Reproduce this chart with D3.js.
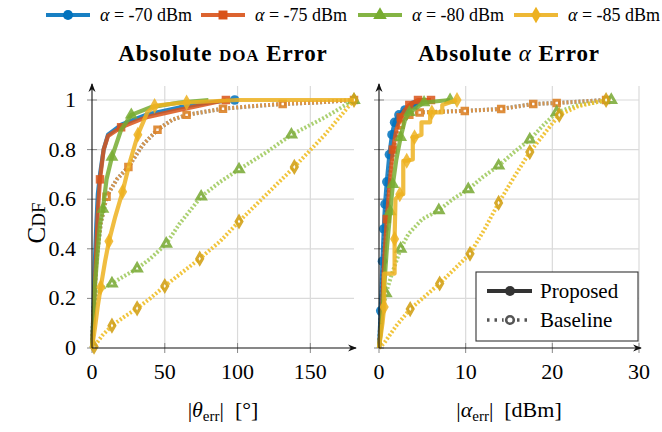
<!DOCTYPE html>
<html>
<head>
<meta charset="utf-8">
<script src="https://cdn.jsdelivr.net/npm/d3@7"></script>
<style>
  html, body { margin: 0; padding: 0; background: #fff; }
</style>
</head>
<body>
<svg id="chart" width="662" height="432" font-family="'Liberation Serif', 'Times New Roman', 'DejaVu Serif', serif"></svg>
<script>
// ---- Series labels (transmit power levels) ----
const powers = ["-70", "-75", "-80", "-85"];

// ---- Tick values ----
const yTicks = [0, 0.2, 0.4, 0.6, 0.8, 1];
const yTickLabels = ["0", "0.2", "0.4", "0.6", "0.8", "1"];
const thetaTicks = [0, 50, 100, 150];
const alphaTicks = [0, 10, 20, 30];

// ---- CDF of absolute DOA error [deg], proposed method ----
const doaProp70 = [[0,0],[1,0.15],[2,0.35],[3,0.5],[4,0.62],[5.5,0.7],[8,0.8],[11,0.86],[20,0.9],[37,0.94],[60,0.97],[80,0.99],[98,1]];
const doaProp75 = [[0,0],[1,0.12],[2.5,0.33],[4,0.55],[5.5,0.68],[8,0.8],[11,0.855],[20,0.89],[37,0.93],[60,0.96],[80,0.985],[92,1]];
const doaProp80 = [[0,0],[1,0.1],[2,0.25],[4,0.4],[5.5,0.5],[7.5,0.56],[10,0.68],[13.7,0.77],[20,0.88],[27,0.94],[40,0.97],[60,0.99],[80,1]];
const doaProp85 = [[0,0],[2,0.08],[4,0.17],[6,0.245],[9,0.35],[11.6,0.43],[16,0.53],[21,0.63],[26,0.75],[31.5,0.86],[38,0.95],[43,0.976],[55,0.985],[65,0.99],[100,1],[180,1]];

// ---- CDF of absolute DOA error [deg], baseline ----
const doaBase70 = [[0,0],[1,0.15],[3,0.35],[6,0.5],[10,0.61],[17,0.68],[25,0.73],[35,0.82],[45,0.88],[55,0.92],[65,0.94],[90,0.965],[110,0.975],[131,0.984],[155,0.99],[180,1]];
const doaBase75 = [[0,0],[1,0.15],[3,0.35],[6,0.5],[10,0.61],[17,0.68],[25,0.73],[35,0.82],[45,0.88],[55,0.92],[65,0.94],[90,0.965],[110,0.975],[131,0.984],[155,0.99],[180,1]];
const doaBase80 = [[0,0],[1,0.15],[3,0.22],[7,0.24],[13.7,0.26],[22,0.29],[31,0.32],[40,0.36],[51,0.42],[60,0.5],[75,0.61],[88,0.67],[101,0.72],[120,0.79],[137,0.86],[160,0.93],[180,1]];
const doaBase85 = [[0,0],[1.4,0.005],[7,0.05],[13.7,0.09],[22,0.125],[31,0.16],[40,0.2],[50,0.25],[62,0.305],[74,0.36],[88,0.43],[101,0.51],[120,0.62],[139,0.73],[160,0.86],[180,1]];

// ---- CDF of absolute power error [dBm], proposed method ----
const pwrProp70 = [[0,0],[0.2,0.15],[0.4,0.35],[0.55,0.48],[0.7,0.58],[0.9,0.67],[1.2,0.78],[1.5,0.86],[1.8,0.91],[2.3,0.94],[3,0.96],[4,0.98],[5,1]];
const pwrProp75 = [[0,0],[0.3,0.12],[0.6,0.35],[0.9,0.52],[1.2,0.65],[1.6,0.8],[2,0.88],[2.5,0.93],[3,0.96],[3.5,0.98],[4.5,1],[6,1]];
const pwrProp80 = [[0,0],[0.3,0.1],[0.6,0.25],[0.9,0.4],[1.3,0.55],[1.6,0.66],[2,0.76],[2.5,0.85],[3,0.92],[3.5,0.95],[5.2,0.99],[8.2,1]];
const pwrProp85 = [[0,0],[0.4,0.1],[0.6,0.165],[0.6,0.3],[1.8,0.3],[1.8,0.44],[1.9,0.6],[2.4,0.62],[2.8,0.62],[2.8,0.755],[3.2,0.755],[3.9,0.76],[3.9,0.85],[4.1,0.85],[4.9,0.86],[4.9,0.91],[5.9,0.91],[5.9,0.95],[6.1,0.95],[7.3,0.95],[7.3,0.98],[9.0,1]];

// ---- CDF of absolute power error [dBm], baseline ----
const pwrBase70 = [[0,0],[0.3,0.2],[0.7,0.5],[1.2,0.7],[1.8,0.82],[2.5,0.9],[3.5,0.94],[4.7,0.95],[9.9,0.956],[14.1,0.964],[17.8,0.984],[20.5,0.988],[26.2,1]];
const pwrBase75 = [[0,0],[0.3,0.2],[0.7,0.5],[1.2,0.7],[1.8,0.82],[2.5,0.9],[3.5,0.94],[4.7,0.95],[9.9,0.956],[14.1,0.964],[17.8,0.984],[20.5,0.988],[26.2,1]];
const pwrBase80 = [[0,0],[0.3,0.12],[0.8,0.22],[1.5,0.3],[2.5,0.4],[3.4,0.46],[5,0.52],[6.9,0.555],[8.5,0.6],[10.3,0.64],[12,0.69],[13.8,0.735],[15.6,0.79],[17.4,0.84],[19,0.9],[20.5,0.95],[23,0.98],[26.8,1]];
const pwrBase85 = [[0,0],[0.6,0.02],[2,0.09],[3.6,0.157],[7,0.26],[10.5,0.38],[12.2,0.48],[13.8,0.585],[15.6,0.69],[17.4,0.79],[19.2,0.87],[20.8,0.94],[23,0.975],[26.2,1]];

// ---- Styling ----
const colors = ["#0072bd", "#d95319", "#77ac30", "#edb120"];
const baseColors = ["#4a9bd6", "#e8923a", "#a2cb62", "#efbf28"];
const baseMarkColors = ["#2f7fb8", "#dc8228", "#7fae3e", "#d3a21a"];
const shapes = [d3.symbolCircle, d3.symbolSquare, d3.symbolTriangle, d3.symbolDiamond];

const svg = d3.select("#chart");
const defs = svg.append("defs");
defs.append("marker").attr("id", "arrow").attr("viewBox", "0 0 10 10")
  .attr("refX", 9).attr("refY", 5).attr("markerWidth", 8).attr("markerHeight", 8)
  .attr("orient", "auto")
  .append("path").attr("d", "M0,1 L10,5 L0,9 L3,5 Z").attr("fill", "#111");

const yScale = d3.scaleLinear().domain([0, 1]).range([348, 100]);

function panel(opts) {
  const { xScale, xTicks, props, bases, propMarks, baseMarks, title, xLabel, showYLabels } = opts;
  const g = svg.append("g");
  const x0 = xScale.range()[0], x1 = xScale.range()[1];
  const yTop = 86;

  // grid
  g.selectAll(".hg").data(yTicks.filter(d => d > 0)).join("line")
    .attr("x1", x0).attr("x2", x1).attr("y1", d => yScale(d)).attr("y2", d => yScale(d))
    .attr("stroke", "#dadada").attr("stroke-width", 1.2);
  g.selectAll(".vg").data(xTicks.filter(d => d > 0)).join("line")
    .attr("x1", d => xScale(d)).attr("x2", d => xScale(d)).attr("y1", 348).attr("y2", yTop)
    .attr("stroke", "#dadada").attr("stroke-width", 1.2);
  // tick marks
  g.selectAll(".yt").data(yTicks).join("line")
    .attr("x1", x0 - 5).attr("x2", x0 + 5).attr("y1", d => yScale(d)).attr("y2", d => yScale(d))
    .attr("stroke", "#888").attr("stroke-width", 1);
  g.selectAll(".xt").data(xTicks).join("line")
    .attr("x1", d => xScale(d)).attr("x2", d => xScale(d)).attr("y1", 343).attr("y2", 353)
    .attr("stroke", "#888").attr("stroke-width", 1);

  const line = d3.line().x(d => xScale(d[0])).y(d => yScale(d[1]));
  const plot = g.append("g");

  // baselines (densely dotted, small hollow markers)
  bases.forEach((data, i) => {
    plot.append("path").datum(data).attr("d", line)
      .attr("fill", "none").attr("stroke", baseColors[i]).attr("stroke-width", 4)
      .attr("stroke-dasharray", "2,2").attr("opacity", 0.9);
    plot.selectAll(null).data(baseMarks[i].map(k => data[k])).join("path")
      .attr("transform", d => `translate(${xScale(d[0])},${yScale(d[1])})`)
      .attr("d", d3.symbol(shapes[i], 30))
      .attr("fill", "#fff").attr("stroke", baseMarkColors[i]).attr("stroke-width", 3)
      .attr("opacity", 0.9);
  });
  // proposed (solid, filled markers)
  props.forEach((data, i) => {
    plot.append("path").datum(data).attr("d", line)
      .attr("fill", "none").attr("stroke", colors[i]).attr("stroke-width", 4.2)
      .attr("stroke-linejoin", "round").attr("opacity", 0.85);
    plot.selectAll(null).data(propMarks[i].map(k => data[k])).join("path")
      .attr("transform", d => `translate(${xScale(d[0])},${yScale(d[1])})`)
      .attr("d", d3.symbol(shapes[i], 72))
      .attr("fill", colors[i]).attr("opacity", 0.85);
  });

  // axes
  g.append("line").attr("x1", x0).attr("x2", x0).attr("y1", 348).attr("y2", yTop - 2)
    .attr("stroke", "#111").attr("stroke-width", 1.1).attr("marker-end", "url(#arrow)");
  g.append("line").attr("x1", x0).attr("x2", x1 + 2).attr("y1", 348).attr("y2", 348)
    .attr("stroke", "#111").attr("stroke-width", 1.1).attr("marker-end", "url(#arrow)");

  // tick labels
  g.selectAll(".xl").data(xTicks).join("text")
    .attr("x", d => xScale(d)).attr("y", 379).attr("text-anchor", "middle")
    .attr("font-size", 22).text(d => d);
  if (showYLabels) {
    g.selectAll(".yl").data(yTicks).join("text")
      .attr("x", x0 - 16).attr("y", d => yScale(d) + 7).attr("text-anchor", "end")
      .attr("font-size", 22).text((d, k) => yTickLabels[k]);
  }

  // title
  const cx = (x0 + x1) / 2;
  const t = g.append("text").attr("x", cx).attr("y", 61).attr("text-anchor", "middle")
    .attr("font-size", 23).attr("font-weight", "bold").attr("letter-spacing", 0.9);
  title(t);

  // axis label
  const xl = g.append("text").attr("x", cx).attr("y", 417).attr("text-anchor", "middle").attr("font-size", 22);
  xLabel(xl);
}

panel({
  xScale: d3.scaleLinear().domain([0, 180]).range([92, 354]),
  xTicks: thetaTicks,
  props: [doaProp70, doaProp75, doaProp80, doaProp85],
  bases: [doaBase70, doaBase75, doaBase80, doaBase85],
  propMarks: [[12], [4, 7, 11], [5, 7, 9], [3, 5, 7, 9, 11, 13]],
  baseMarks: [[], [4, 6, 8, 10, 11, 13, 15], [4, 6, 8, 10, 12, 14, 16], [1, 3, 5, 7, 9, 11, 13, 15]],
  showYLabels: true,
  title: t => {
    t.append("tspan").text("Absolute ");
    t.append("tspan").attr("font-size", 17).text("DOA");
    t.append("tspan").text(" Error");
  },
  xLabel: t => {
    t.append("tspan").text("|");
    t.append("tspan").attr("font-style", "italic").text("θ");
    t.append("tspan").attr("font-size", 15).attr("dy", 4).text("err");
    t.append("tspan").attr("dy", -4).text("|\u2002[°]");
  }
});

panel({
  xScale: d3.scaleLinear().domain([0, 30]).range([379, 639]),
  xTicks: alphaTicks,
  props: [pwrProp70, pwrProp75, pwrProp80, pwrProp85],
  bases: [pwrBase70, pwrBase75, pwrBase80, pwrBase85],
  propMarks: [[1, 2, 3, 4, 5, 6, 7, 8, 9, 10, 11], [3, 5, 7, 9, 10, 11], [4, 5, 7, 9, 10, 11], [2, 5, 7, 10, 13, 18, 21]],
  baseMarks: [[], [5, 6, 7, 8, 9, 10, 11, 12], [2, 4, 7, 9, 11, 13, 15, 17], [3, 4, 5, 7, 9, 11, 13]],
  showYLabels: false,
  title: t => {
    t.append("tspan").text("Absolute ");
    t.append("tspan").attr("font-style", "italic").attr("font-weight", "normal").text("α");
    t.append("tspan").text(" Error");
  },
  xLabel: t => {
    t.append("tspan").text("|");
    t.append("tspan").attr("font-style", "italic").text("α");
    t.append("tspan").attr("font-size", 15).attr("dy", 4).text("err");
    t.append("tspan").attr("dy", -4).text("|\u2002[dBm]");
  }
});

// y axis label "CDF" in small caps
const yl = svg.append("text").attr("transform", "translate(45,223) rotate(-90)")
  .attr("text-anchor", "middle").attr("font-size", 25);
yl.append("tspan").text("C");
yl.append("tspan").attr("font-size", 19).text("DF");

// top legend: power levels
const legX = [46, 201, 358, 514];
powers.forEach((p, i) => {
  const lg = svg.append("g").attr("transform", `translate(${legX[i]},15)`);
  lg.append("line").attr("x1", 0).attr("x2", 44).attr("y1", 0).attr("y2", 0)
    .attr("stroke", colors[i]).attr("stroke-width", 4.2).attr("opacity", 0.9);
  lg.append("path").attr("transform", "translate(22,0)").attr("d", d3.symbol(shapes[i], 80))
    .attr("fill", colors[i]);
  const tx = lg.append("text").attr("x", 54).attr("y", 6).attr("font-size", 18);
  tx.append("tspan").attr("font-style", "italic").text("α");
  tx.append("tspan").text(" = " + p + " dBm");
});

// method legend box
const mg = svg.append("g").attr("transform", "translate(476,272)");
mg.append("rect").attr("width", 162).attr("height", 69).attr("fill", "#fff")
  .attr("stroke", "#333").attr("stroke-width", 1.1);
mg.append("line").attr("x1", 11).attr("x2", 56).attr("y1", 19).attr("y2", 19)
  .attr("stroke", "#333").attr("stroke-width", 4.2);
mg.append("circle").attr("cx", 34).attr("cy", 19).attr("r", 5).attr("fill", "#333");
mg.append("text").attr("x", 64).attr("y", 26).attr("font-size", 21).text("Proposed");
mg.append("line").attr("x1", 11).attr("x2", 56).attr("y1", 48).attr("y2", 48)
  .attr("stroke", "#555").attr("stroke-width", 3.6).attr("stroke-dasharray", "2.5,5");
mg.append("circle").attr("cx", 34).attr("cy", 48).attr("r", 6.5).attr("fill", "#fff");
mg.append("circle").attr("cx", 34).attr("cy", 48).attr("r", 3.8).attr("fill", "#fff")
  .attr("stroke", "#555").attr("stroke-width", 2.6);
mg.append("text").attr("x", 64).attr("y", 55).attr("font-size", 21).text("Baseline");
</script>
</body>
</html>
